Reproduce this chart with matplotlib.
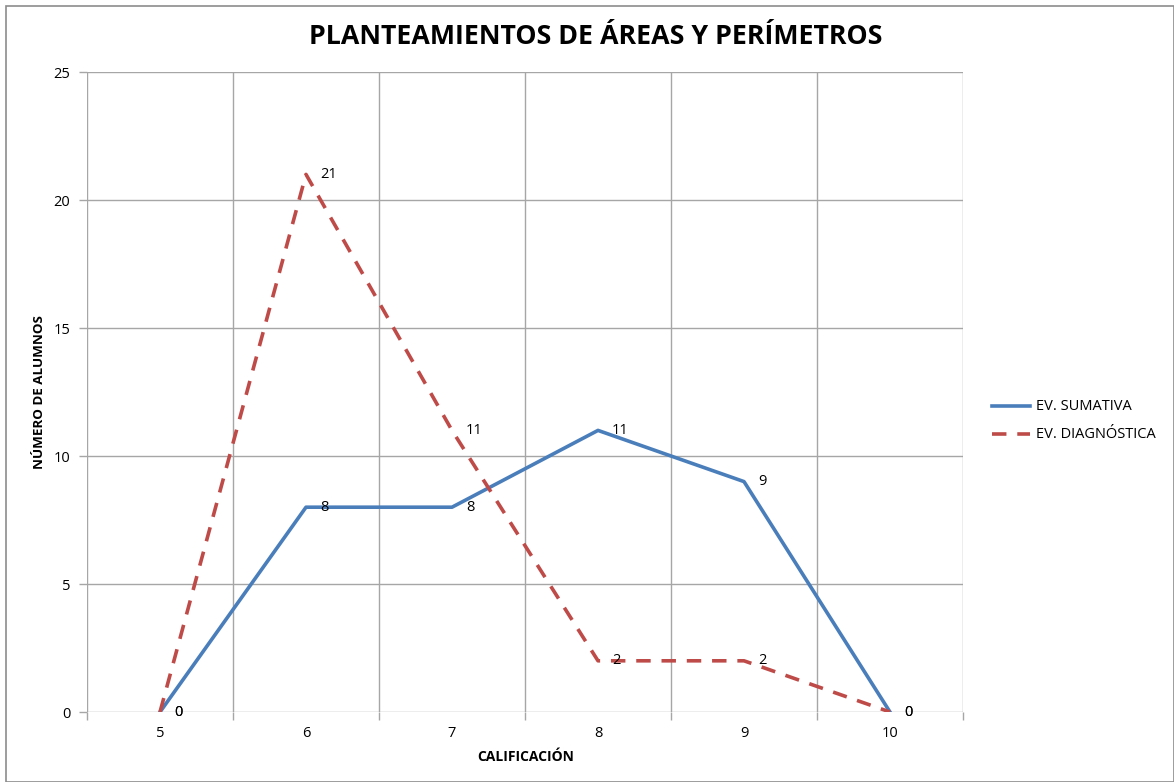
import matplotlib
matplotlib.use("Agg")
import matplotlib.pyplot as plt
from matplotlib.lines import Line2D
from matplotlib.patches import Rectangle

plt.rcParams['font.family'] = ['Open Sans', 'DejaVu Sans']

calificaciones = [5, 6, 7, 8, 9, 10]
sumativa = [0, 8, 8, 11, 9, 0]
diagnostica = [0, 21, 11, 2, 2, 0]
y_ticks = [0, 5, 10, 15, 20, 25]

W, H = 1174, 782
fig = plt.figure(figsize=(W / 100, H / 100), dpi=100)
fig.patches.append(Rectangle((6 / W, 0), (W - 6) / W, (H - 6) / H, transform=fig.transFigure,
                             fill=False, edgecolor='#8c8c8c', linewidth=1.2))

ax = fig.add_axes([87 / W, (H - 712) / H, 876 / W, 640 / H])
x = list(range(len(calificaciones)))
ax.set_xlim(-0.5, len(calificaciones) - 0.5)
ax.set_ylim(0, 25)

grid_c = '#a6a6a6'
for b in [i - 0.5 for i in range(len(calificaciones) + 1)]:
    ax.axvline(b, color=grid_c, linewidth=1.0, zorder=1)
for t in y_ticks:
    ax.axhline(t, color=grid_c, linewidth=1.0, zorder=1)
for s in ax.spines.values():
    s.set_visible(False)

ax.set_yticks(y_ticks)
ax.set_xticks(x)
ax.set_xticklabels([str(c) for c in calificaciones])
ax.set_xticks([i - 0.5 for i in range(len(calificaciones) + 1)], minor=True)
ax.tick_params(axis='x', which='major', length=0, pad=10, labelsize=10.5)
ax.tick_params(axis='x', which='minor', length=6, color=grid_c, width=1)
ax.tick_params(axis='y', length=6, color=grid_c, width=1, pad=6, labelsize=10.5)

blue = '#4a7ebb'
red = '#be4b48'
ax.plot(x, sumativa, color=blue, linewidth=2.6, zorder=3)
ax.plot(x, diagnostica, color=red, linewidth=2.6, dashes=(4, 3), zorder=3)

for xs, vals in ((x, sumativa), (x, diagnostica)):
    for xi, v in zip(xs, vals):
        ax.annotate(str(v), (xi, v), xytext=(10, 0), textcoords='offset points',
                    ha='left', va='center', fontsize=10.5, color='black', zorder=4)

fig.text(596 / W, 1 - 37 / H, 'PLANTEAMIENTOS DE ÁREAS Y PERÍMETROS',
         ha='center', va='center', fontsize=19.3, fontweight='bold')
fig.text(526 / W, 1 - 757 / H, 'CALIFICACIÓN', ha='center', va='center',
         fontsize=10, fontweight='bold')
fig.text(40 / W, 1 - 392 / H, 'NÚMERO DE ALUMNOS', ha='center', va='center',
         fontsize=9.6, fontweight='bold', rotation=90)

# legend drawn in figure coordinates
for yy, col, dash, lab in ((406, blue, None, 'EV. SUMATIVA'),
                           (434, red, (4, 3), 'EV. DIAGNÓSTICA')):
    ln = Line2D([992 / W, 1030 / W], [1 - yy / H, 1 - yy / H], transform=fig.transFigure,
                color=col, linewidth=2.6)
    if dash:
        ln.set_dashes(dash)
    fig.lines.append(ln)
    fig.text(1036 / W, 1 - yy / H, lab, ha='left', va='center', fontsize=10.5)

fig.savefig('out.png', dpi=100)
